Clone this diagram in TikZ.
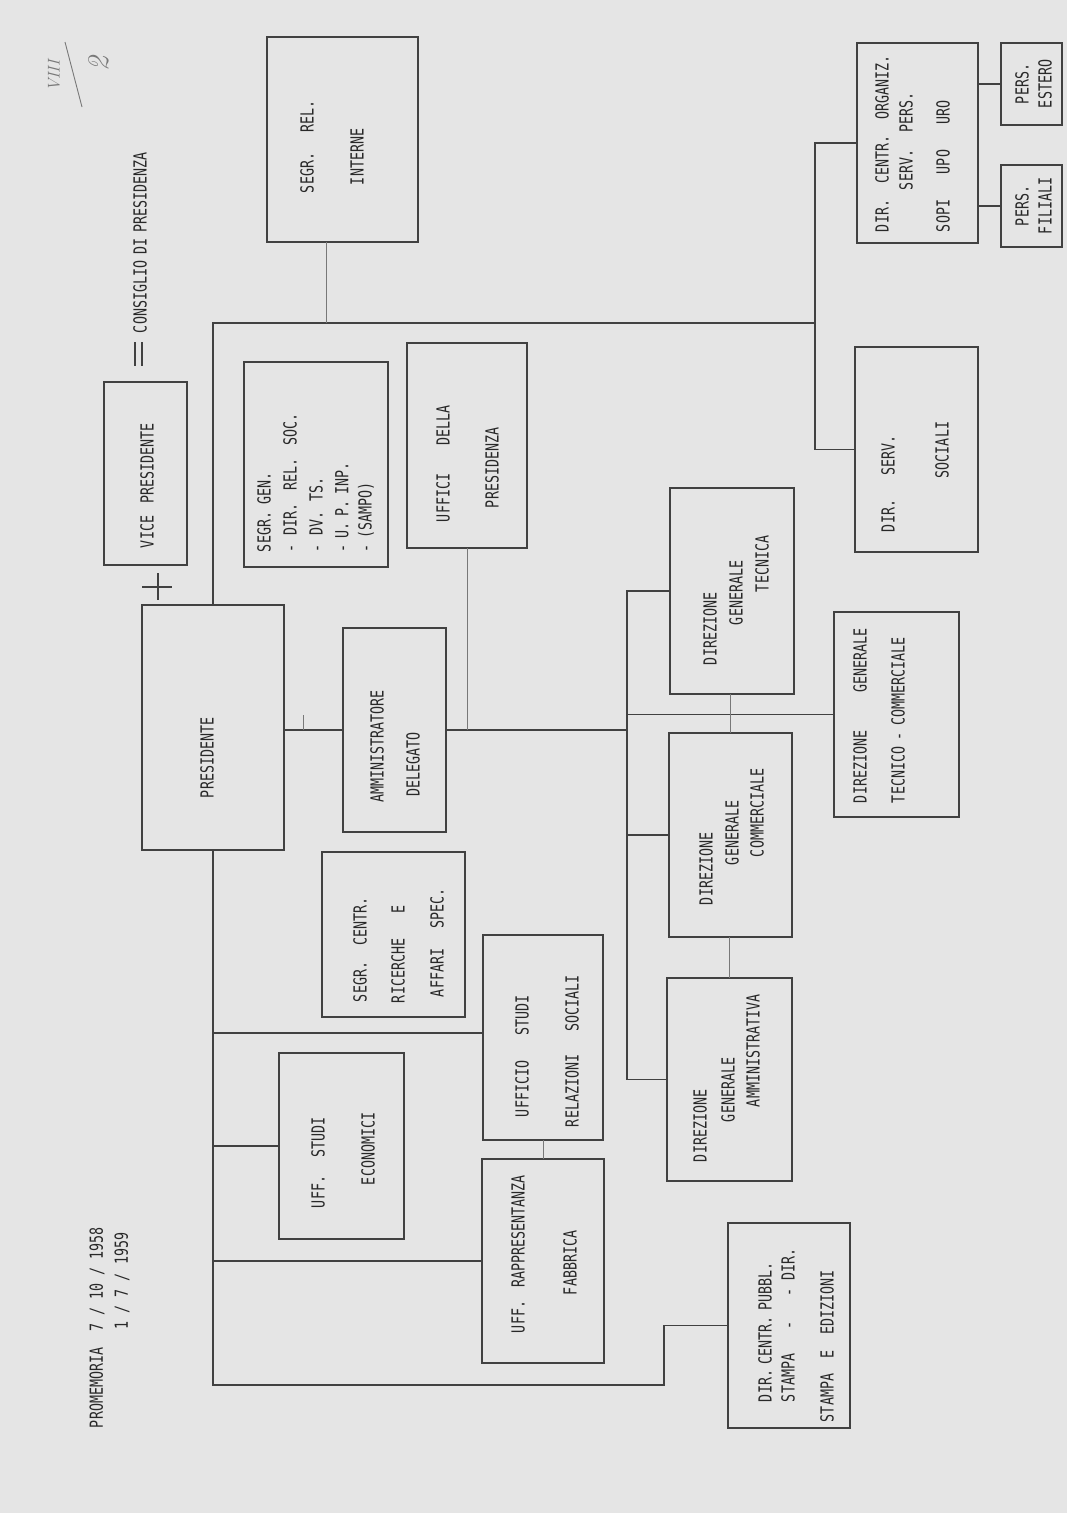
\documentclass[tikz,border=0pt]{standalone}
\usepackage{fontspec}
\newfontfamily\twf{DejaVu Sans Mono}[FakeStretch=0.74]
\usetikzlibrary{calc}
\definecolor{paper}{RGB}{229,229,229}
\definecolor{ink}{RGB}{40,40,40}
\definecolor{rulec}{RGB}{65,65,65}
\definecolor{faint}{RGB}{120,120,120}
\newcommand\obox[5]{%
 \pgfmathsetmacro\obcx{(#2+#4)/2}%
 \pgfmathsetmacro\obcy{(#3+#5)/2}%
 \pgfmathsetmacro\obw{#4-#2}%
 \pgfmathsetmacro\obh{#5-#3}%
 \node[box,minimum width=\obw pt,minimum height=\obh pt] (#1) at (\obcx,\obcy) {};}
\newcommand\tline[5]{%
 \pgfmathsetmacro\tlcy{(#3+#4)/2}%
 \pgfmathsetmacro\tllen{#3-#4}%
 \node[txt] (#1) at (#2,\tlcy) {\makebox[\tllen pt][s]{#5}};}
\begin{document}
\begin{tikzpicture}[x=1pt,y=-1pt,
 box/.style={draw=rulec,line width=1.1pt,inner sep=0pt,outer sep=0pt},
 txt/.style={rotate=90,inner sep=0pt,outer sep=0pt,text=ink,font=\twf\fontsize{18pt}{20pt}\selectfont},
 conn/.style={draw=rulec,line width=1.1pt},
 thin/.style={draw=faint,line width=0.7pt}]
\fill[paper] (0,0) rectangle (1067,1513);
\useasboundingbox (0,0) rectangle (1067,1513);

% boxes
\obox{segrrel}{267}{37}{418}{242}
\obox{dircentr}{857}{43}{978}{243}
\obox{persest}{1001}{43}{1062}{125}
\obox{persfil}{1001}{165}{1062}{247}
\obox{vice}{104}{382}{187}{565}
\obox{segrgen}{244}{362}{388}{567}
\obox{uffpres}{407}{343}{527}{548}
\obox{dirserv}{855}{347}{978}{552}
\obox{pres}{142}{605}{284}{850}
\obox{admin}{343}{628}{446}{832}
\obox{segrcentr}{322}{852}{465}{1017}
\obox{uffstudi}{483}{935}{603}{1140}
\obox{uffrapp}{482}{1159}{604}{1363}
\obox{uffeco}{279}{1053}{404}{1239}
\obox{dcp}{728}{1223}{850}{1428}
\obox{dgtec}{670}{488}{794}{694}
\obox{dgcom}{669}{733}{792}{937}
\obox{dgamm}{667}{978}{792}{1181}
\obox{dgtc}{834}{612}{959}{817}

% texts
\tline{tcons}{140}{333}{152}{CONSIGLIO\hfill DI\hfill PRESIDENZA}
\tline{tsr1}{307}{193}{100}{SEGR.\hfill REL.}
\tline{tsr2}{357}{185}{132}{\hfil INTERNE\hfil}
\tline{tdc1}{882}{232}{55}{DIR.\hfill CENTR.\hfill ORGANIZ.}
\tline{tdc2}{906}{190}{92}{SERV.\hfill PERS.}
\tline{tdc3}{943}{232}{100}{SOPI\hfill UPO\hfill URO}
\tline{tpe1}{1022}{104}{64}{\hfil PERS.\hfil}
\tline{tpe2}{1045}{108}{60}{\hfil ESTERO\hfil}
\tline{tpf1}{1022}{226}{186}{\hfil PERS.\hfil}
\tline{tpf2}{1045}{234}{178}{\hfil FILIALI\hfil}
\tline{tvice}{147}{548}{423}{VICE\hfill PRESIDENTE}
\tline{tsg1}{264}{552}{472}{SEGR.\hfill GEN.}
\tline{tsg2}{290}{552}{413}{- DIR.\hfill REL.\hfill SOC.}
\tline{tsg3}{316}{552}{477}{- DV.\hfill TS.}
\tline{tsg4}{342}{552}{462}{- U. P. INP.\hfil}
\tline{tsg5}{366}{552}{482}{- (SAMPO)\hfil}
\tline{tup1}{443}{522}{405}{UFFICI\hfill DELLA}
\tline{tup2}{492}{508}{430}{\hfil PRESIDENZA\hfil}
\tline{tpres}{207}{798}{720}{\hfil PRESIDENTE\hfil}
\tline{tad1}{377}{803}{690}{\hfil AMMINISTRATORE\hfil}
\tline{tad2}{413}{797}{732}{\hfil DELEGATO\hfil}
\tline{tsc1}{360}{1002}{897}{SEGR.\hfill CENTR.}
\tline{tsc2}{398}{1003}{905}{RICERCHE\hfill E}
\tline{tsc3}{437}{997}{888}{AFFARI\hfill SPEC.}
\tline{tus1}{522}{1117}{995}{UFFICIO\hfill STUDI}
\tline{tus2}{572}{1127}{975}{RELAZIONI\hfill SOCIALI}
\tline{tur1}{518}{1333}{1175}{UFF.\hfill RAPPRESENTANZA}
\tline{tur2}{570}{1295}{1232}{\hfil FABBRICA\hfil}
\tline{tue1}{318}{1208}{1117}{UFF.\hfill STUDI}
\tline{tue2}{368}{1185}{1118}{\hfil ECONOMICI\hfil}
\tline{tdp1}{765}{1402}{1262}{DIR. CENTR. PUBBL.\hfil}
\tline{tdp2}{788}{1402}{1248}{STAMPA\hfill -\hfill - DIR.}
\tline{tdp3}{827}{1422}{1270}{STAMPA\hfill E\hfill EDIZIONI}
\tline{tdt1}{710}{665}{593}{\hfil DIREZIONE\hfil}
\tline{tdt2}{736}{625}{562}{\hfil GENERALE\hfil}
\tline{tdt3}{762}{592}{538}{\hfil TECNICA\hfil}
\tline{tdm1}{706}{905}{835}{\hfil DIREZIONE\hfil}
\tline{tdm2}{732}{865}{803}{\hfil GENERALE\hfil}
\tline{tdm3}{757}{857}{772}{\hfil COMMERCIALE\hfil}
\tline{tda1}{700}{1162}{1090}{\hfil DIREZIONE\hfil}
\tline{tda2}{728}{1122}{1058}{\hfil GENERALE\hfil}
\tline{tda3}{753}{1107}{995}{\hfil AMMINISTRATIVA\hfil}
\tline{ttc1}{860}{803}{628}{DIREZIONE\hfill GENERALE}
\tline{ttc2}{898}{803}{637}{TECNICO\hfill -\hfill COMMERCIALE}
\tline{tds1}{888}{532}{435}{DIR.\hfill SERV.}
\tline{tds2}{942}{482}{418}{\hfil SOCIALI\hfil}
\tline{tpm1}{97}{1428}{1227}{PROMEMORIA\hfill 7 / 10 / 1958}
\tline{tpm2}{122}{1332}{1230}{\hfil 1 / 7 / 1959\hfil}

% handwritten mark
\node[rotate=90,text=faint,font=\itshape\fontsize{17pt}{17pt}\selectfont] (hw1) at (54,76) {VIII};
\node[rotate=90,text=faint,font=\itshape\fontsize{30pt}{30pt}\selectfont] (hw2) at (99,64) {2};
\coordinate (hwa) at (65,42);
\coordinate (hwb) at (82,107);
\draw[faint,line width=0.9pt] (hwa) -- (hwb);

% equals sign beside CONSIGLIO
\coordinate (eqa) at (135,342);
\coordinate (eqb) at (142,342);
\draw[conn] (eqa) -- ++(0,24);
\draw[conn] (eqb) -- ++(0,24);

% cross between vice and president
\coordinate (vx) at (158,587);
\draw[conn] ([xshift=-16pt]vx) -- ([xshift=14pt]vx);
\draw[conn] ([yshift=14pt]vx) -- ([yshift=-13pt]vx);

% connectors
\coordinate (tl) at (213,323);
\coordinate (tr) at (815,323);
\coordinate (bx) at (627,0);
\coordinate (bl) at (213,1385);
\coordinate (pb) at (664,1385);
\coordinate (srl) at ([xshift=-16.5pt]segrrel.south);
\coordinate (usl) at ([yshift=4.5pt]uffstudi.west);
\coordinate (tick) at ([xshift=19pt]pres.east);

\draw[conn] (pres.north) -- (pres.north |- tl) -- (tr);
\draw[thin] (srl) -- (srl |- tl);
\draw[conn] (dircentr.west) -- (dircentr.west -| tr) -- (dirserv.west -| tr) -- (dirserv.west);
\draw[conn] (persest.west) -- (persest.west -| dircentr.east);
\draw[conn] (persfil.west) -- (persfil.west -| dircentr.east);
\draw[conn] (admin.west) -- (admin.west -| pres.east);
\draw[thin] (tick |- admin.west) -- ++(0,-15);
\draw[conn] (admin.east) -- (admin.east -| bx);
\draw[thin] (uffpres.south) -- (uffpres.south |- admin.east);
\draw[conn] (dgtec.west) -- (dgtec.west -| bx) -- (dgamm.west -| bx) -- (dgamm.west);
\draw[conn] (dgcom.west) -- (dgcom.west -| bx);
\draw[conn] (dgtc.west) -- (dgtc.west -| bx);
\draw[thin] (dgcom.north) -- (dgcom.north |- dgtec.south);
\draw[thin] (dgamm.north) -- (dgamm.north |- dgcom.south);
\draw[conn] (pres.south) -- (pres.south |- bl) -- (pb) -- (pb |- dcp.west) -- (dcp.west);
\draw[conn] (uffeco.west) -- (uffeco.west -| bl);
\draw[conn] (uffrapp.west) -- (uffrapp.west -| bl);
\draw[conn] (usl) -- (usl -| bl);
\draw[thin] (uffstudi.south) -- (uffrapp.north);
\end{tikzpicture}
\end{document}
